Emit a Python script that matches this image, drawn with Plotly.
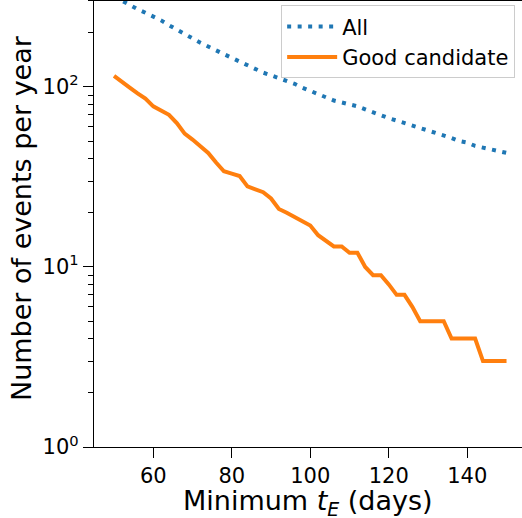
import plotly.graph_objects as go

# Minimum t_E (days)
min_te = list(range(50, 151, 2))

# Number of events per year - all
all_events = [318, 300, 285, 270, 258, 246, 234, 220, 207, 196,
              186, 176, 167, 159, 152, 145, 138, 131, 125, 120,
              116, 112, 108, 104, 99, 95, 91, 87, 84, 82,
              80, 78, 75, 72, 70, 67, 65, 63, 61, 59,
              57, 55, 54, 52, 50, 49, 47, 46, 45, 44, 43]

# Number of events per year - good candidates
good_events = [115, 106, 99, 92, 86, 78, 74, 70, 63, 55,
               51, 47, 43, 38, 34, 33, 32, 28, 27, 26,
               24, 21, 20, 19, 18, 17, 15, 14, 13, 13,
               12, 12, 10, 9, 9, 8, 7, 7, 6, 5,
               5, 5, 5, 4, 4, 4, 4, 3, 3, 3, 3]

y_major = [1, 10, 100]
y_major_text = ["10<sup>0</sup>", "10<sup>1</sup>", "10<sup>2</sup>"]
y_minor = [2, 3, 4, 5, 6, 7, 8, 9, 20, 30, 40, 50, 60, 70, 80, 90, 200, 300]
x_ticks = [60, 80, 100, 120, 140]

FONT = "DejaVu Sans"

fig = go.Figure()
fig.add_trace(go.Scatter(
    x=min_te, y=all_events, mode="lines", name="All",
    line=dict(color="#1f77b4", width=4, dash="4px,6.5px"),
))
fig.add_trace(go.Scatter(
    x=min_te, y=good_events, mode="lines", name="Good candidate",
    line=dict(color="#ff7f0e", width=4),
))

fig.update_layout(
    width=522, height=518,
    margin=dict(l=94, r=0, t=1, b=71, autoexpand=False),
    paper_bgcolor="white", plot_bgcolor="white",
    font=dict(family=FONT, color="black", size=21),
    showlegend=True,
    legend=dict(
        x=0.984, y=0.99, xanchor="right", yanchor="top",
        bgcolor="rgba(255,255,255,0.8)", bordercolor="#cccccc", borderwidth=1,
        font=dict(family=FONT, size=21, color="black"),
        itemwidth=50,
    ),
    xaxis=dict(
        range=[44.9, 153.94], showgrid=False, zeroline=False, automargin=False,
        showline=True, linecolor="black", linewidth=1.3, mirror=True,
        ticks="outside", ticklen=10, tickwidth=1.3, tickcolor="black",
        tickvals=x_ticks, ticktext=[str(v) for v in x_ticks],
        tickfont=dict(family=FONT, size=21, color="black"),
    ),
    yaxis=dict(
        type="log", range=[0, 2.477], showgrid=False, zeroline=False, automargin=False,
        showline=True, linecolor="black", linewidth=1.3,
        ticks="outside", ticklen=10, tickwidth=1.3, tickcolor="black",
        tickvals=y_major, ticktext=y_major_text,
        tickfont=dict(family=FONT, size=21, color="black"),
        minor=dict(ticks="outside", ticklen=5, tickwidth=1.1, tickcolor="black",
                   tickvals=y_minor, showgrid=False),
    ),
)

fig.add_annotation(
    text="Minimum <i>t<sub>E</sub></i> (days)", xref="paper", yref="paper",
    x=0.5, y=0, yshift=-55, xanchor="center", yanchor="middle", showarrow=False,
    font=dict(family=FONT, size=27, color="black"),
)
fig.add_annotation(
    text="Number of events per year", xref="paper", yref="paper",
    x=0, y=0.5, xshift=-73, yshift=6, xanchor="center", yanchor="middle",
    textangle=-90, showarrow=False,
    font=dict(family=FONT, size=27, color="black"),
)

fig.write_html(
    "out.html",
    config={"displayModeBar": False},
    post_script="document.body.style.margin='0';document.body.style.overflow='hidden';",
)
